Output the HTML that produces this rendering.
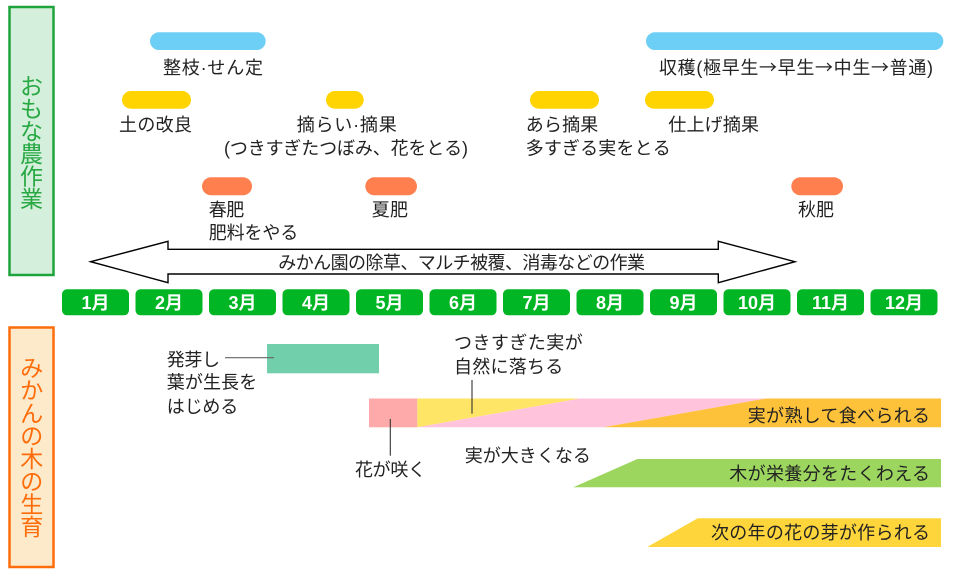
<!DOCTYPE html>
<html>
<head>
<meta charset="utf-8">
<style>
html,body{margin:0;padding:0;background:#fff;}
svg{display:block;}
text{font-family:"Liberation Sans","Noto Sans CJK JP",sans-serif;}
.l{font-size:18px;fill:#222;}
.m{font-size:18px;font-weight:bold;fill:#fff;}
.cjk{font-family:"Noto Sans CJK JP",sans-serif;}
</style>
</head>
<body>
<svg width="955" height="579" viewBox="0 0 955 579" xmlns="http://www.w3.org/2000/svg">
  <!-- side boxes -->
  <rect x="9.5" y="7" width="44" height="268" fill="#d4efdb" stroke="#1fa33b" stroke-width="2.5"/>
  <rect x="9.5" y="327.5" width="44" height="239.5" fill="#fdeacb" stroke="#ff6c0a" stroke-width="2.5"/>
  <g font-size="23" fill="#27a843" text-anchor="middle">
    <text x="31.5" y="94.6">お</text>
    <text x="31.5" y="117.1">も</text>
    <text x="31.5" y="139.6">な</text>
    <text x="31.5" y="162.1">農</text>
    <text x="31.5" y="184.6">作</text>
    <text x="31.5" y="207.1">業</text>
  </g>
  <g font-size="23" fill="#ff6c0a" text-anchor="middle">
    <text x="31.7" y="375.9">み</text>
    <text x="31.7" y="398.6">か</text>
    <text x="31.7" y="421.4">ん</text>
    <text x="31.7" y="444.1">の</text>
    <text x="31.7" y="466.9">木</text>
    <text x="31.7" y="489.6">の</text>
    <text x="31.7" y="512.4">生</text>
    <text x="31.7" y="535.1">育</text>
  </g>

  <!-- top bars -->
  <rect x="150" y="32.3" width="115.7" height="17.7" rx="8.85" fill="#6dcff6"/>
  <rect x="646" y="32.3" width="297.3" height="17.7" rx="8.85" fill="#6dcff6"/>
  <rect x="122" y="91" width="69" height="17.7" rx="8.85" fill="#ffd400"/>
  <rect x="326" y="91" width="37.7" height="17.7" rx="8.85" fill="#ffd400"/>
  <rect x="530" y="91" width="69" height="17.7" rx="8.85" fill="#ffd400"/>
  <rect x="645" y="91" width="69" height="17.7" rx="8.85" fill="#ffd400"/>
  <rect x="202" y="177.3" width="50" height="18" rx="9" fill="#ff7f4f"/>
  <rect x="365.3" y="177.3" width="51.7" height="18" rx="9" fill="#ff7f4f"/>
  <rect x="791.3" y="177.3" width="51.7" height="18" rx="9" fill="#ff7f4f"/>

  <!-- top labels -->
  <text class="l" x="163" y="74" textLength="100">整枝·せん定</text>
  <text class="l" x="659" y="74" textLength="274">収穫(極早生<tspan class="cjk">→</tspan>早生<tspan class="cjk">→</tspan>中生<tspan class="cjk">→</tspan>普通)</text>
  <text class="l" x="119" y="131" textLength="73">土の改良</text>
  <text class="l" x="296.7" y="131" textLength="100">摘らい·摘果</text>
  <text class="l" x="224" y="154.5" textLength="244">(つきすぎたつぼみ、花をとる)</text>
  <text class="l" x="525.7" y="131" textLength="72.6">あら摘果</text>
  <text class="l" x="525.7" y="154.5" textLength="145">多すぎる実をとる</text>
  <text class="l" x="668.3" y="131" textLength="90.7">仕上げ摘果</text>
  <text class="l" x="208.7" y="215.8" textLength="35.6">春肥</text>
  <text class="l" x="208.7" y="239.1" textLength="89.6">肥料をやる</text>
  <text class="l" x="371.7" y="215.8" textLength="36.3">夏肥</text>
  <text class="l" x="798" y="215.8" textLength="36">秋肥</text>

  <!-- double arrow -->
  <polygon points="90.7,261.7 168,241.3 168,249.3 718.3,249.3 718.3,241.3 795,261.7 718.3,282.7 718.3,274 168,274 168,282.7" fill="#fff" stroke="#000" stroke-width="1.4" stroke-linejoin="miter"/>
  <text class="l" x="278.3" y="268.8" textLength="366.7">みかん園の除草、マルチ被覆、消毒などの作業</text>

  <!-- months -->
  <g fill="#00b624">
    <rect x="62" y="289.3" width="67" height="26" rx="5"/>
    <rect x="135.5" y="289.3" width="67" height="26" rx="5"/>
    <rect x="209" y="289.3" width="67" height="26" rx="5"/>
    <rect x="282.5" y="289.3" width="67" height="26" rx="5"/>
    <rect x="356" y="289.3" width="67" height="26" rx="5"/>
    <rect x="429.5" y="289.3" width="67" height="26" rx="5"/>
    <rect x="503" y="289.3" width="67" height="26" rx="5"/>
    <rect x="576.5" y="289.3" width="67" height="26" rx="5"/>
    <rect x="650" y="289.3" width="67" height="26" rx="5"/>
    <rect x="723.5" y="289.3" width="67" height="26" rx="5"/>
    <rect x="797" y="289.3" width="67" height="26" rx="5"/>
    <rect x="870.5" y="289.3" width="67" height="26" rx="5"/>
  </g>
  <g class="m" text-anchor="middle">
    <text class="m" x="95.5" y="309">1月</text>
    <text class="m" x="169" y="309">2月</text>
    <text class="m" x="242.5" y="309">3月</text>
    <text class="m" x="316" y="309">4月</text>
    <text class="m" x="389.5" y="309">5月</text>
    <text class="m" x="463" y="309">6月</text>
    <text class="m" x="536.5" y="309">7月</text>
    <text class="m" x="610" y="309">8月</text>
    <text class="m" x="683.5" y="309">9月</text>
    <text class="m" x="757" y="309">10月</text>
    <text class="m" x="830.5" y="309">11月</text>
    <text class="m" x="904" y="309">12月</text>
  </g>

  <!-- growth -->
  <rect x="267" y="344" width="112" height="29.3" fill="#72cfac"/>
  <line x1="225" y1="357.7" x2="274" y2="357.7" stroke="#666" stroke-width="1.2"/>
  <text class="l" x="166.7" y="366.1" textLength="53.3">発芽し</text>
  <text class="l" x="166.7" y="388.5" textLength="90.6">葉が生長を</text>
  <text class="l" x="166.7" y="412.8" textLength="71.6">はじめる</text>

  <!-- fruit band -->
  <rect x="369" y="398.5" width="48.3" height="28.8" fill="#ffaaaa"/>
  <polygon points="417.3,398.5 580,398.5 417.3,427.3" fill="#ffe566"/>
  <polygon points="580,398.5 766,398.5 603.3,427.3 417.3,427.3" fill="#ffc4dc"/>
  <polygon points="766,398.5 941,398.5 941,427.3 603.3,427.3" fill="#fec13a"/>
  <line x1="390.3" y1="419" x2="390.3" y2="455.7" stroke="#333" stroke-width="1.1"/>
  <line x1="472" y1="380" x2="472" y2="413.6" stroke="#333" stroke-width="1.1"/>
  <text class="l" x="454" y="348.8" textLength="128.7">つきすぎた実が</text>
  <text class="l" x="454" y="372.8" textLength="109.3">自然に落ちる</text>
  <text class="l" x="355" y="475.8" textLength="71">花が咲く</text>
  <text class="l" x="464.7" y="461.8" textLength="126.2">実が大きくなる</text>
  <text class="l" x="747.7" y="421.8" textLength="182.3">実が熟して食べられる</text>

  <polygon points="637.3,459 941,459 941,487.3 573.3,487.3" fill="#9cd65e"/>
  <text class="l" x="729.3" y="480.1" textLength="200.7">木が栄養分をたくわえる</text>

  <polygon points="697.7,518.3 941,518.3 941,547 647.3,547" fill="#ffd53c"/>
  <text class="l" x="711" y="539.1" textLength="219">次の年の花の芽が作られる</text>
</svg>
</body>
</html>
